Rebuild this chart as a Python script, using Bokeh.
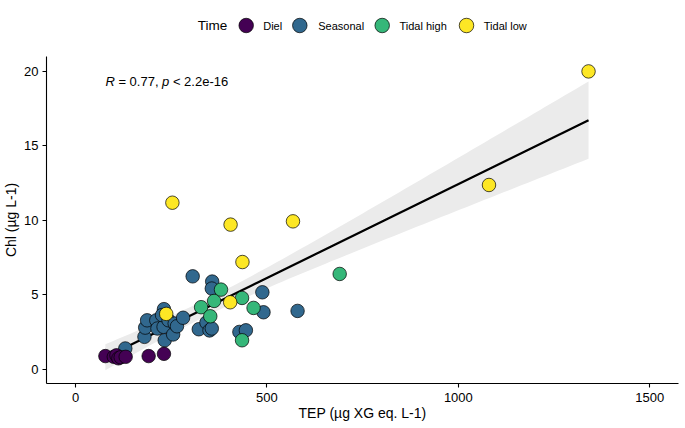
import numpy as np
from bokeh.plotting import figure
from bokeh.layouts import column
from bokeh.models import ColumnDataSource, Label, Range1d, FixedTicker
from bokeh.core.properties import value
from bokeh.embed import file_html
from bokeh.resources import INLINE

# ---------------- data ----------------
groups = ["Diel", "Seasonal", "Tidal high", "Tidal low"]
colors = ["#440154", "#31688E", "#35B779", "#FDE725"]

diel_tep = [78, 100, 107, 112, 118, 131, 191, 231]
diel_chl = [0.90, 0.85, 0.95, 0.75, 0.82, 0.85, 0.90, 1.05]

seasonal_tep = [130, 180, 182, 187, 211, 214, 230, 231, 226, 233, 243, 255, 259, 265,
                281, 306, 322, 342, 350, 356, 357, 356, 428, 445, 488, 491, 580]
seasonal_chl = [1.41, 2.19, 2.81, 3.30, 3.30, 2.75, 2.86, 4.05, 3.65, 1.96, 3.30, 2.35, 3.08, 2.90,
                3.47, 6.25, 2.70, 3.15, 2.62, 2.75, 5.90, 5.43, 2.52, 2.63, 5.18, 3.84, 3.93]

tidal_high_tep = [328, 352, 362, 380, 435, 465, 435, 690]
tidal_high_chl = [4.18, 3.57, 4.60, 5.36, 4.80, 4.13, 1.96, 6.41]

tidal_low_tep = [237, 253, 404, 405, 436, 568, 1080, 1340]
tidal_low_chl = [3.73, 11.19, 4.51, 9.72, 7.21, 9.94, 12.38, 20.0]

x_ticks = [0, 500, 1000, 1500]
y_ticks = [0, 5, 10, 15, 20]
legend_title = "Time"
r_text = "0.77"
p_text = "2.2e-16"

# ---------------- regression (lm with 95% CI) ----------------
all_x = np.array(diel_tep + seasonal_tep + tidal_high_tep + tidal_low_tep, dtype=float)
all_y = np.array(diel_chl + seasonal_chl + tidal_high_chl + tidal_low_chl, dtype=float)
n = len(all_x)
slope, intercept = np.polyfit(all_x, all_y, 1)
resid = all_y - (slope * all_x + intercept)
s = np.sqrt(np.sum(resid ** 2) / (n - 2))
xbar = all_x.mean()
sxx = np.sum((all_x - xbar) ** 2)
t_crit = 2.01
xs = np.linspace(all_x.min(), all_x.max(), 80)
fit = slope * xs + intercept
se = s * np.sqrt(1.0 / n + (xs - xbar) ** 2 / sxx)
lo = fit - t_crit * se
hi = fit + t_crit * se

FONT = "Liberation Sans"
W = 685
LEG_H = 56
FRAME_L = 46
FRAME_R = 678

# ---------------- legend strip (pixel coordinates, frames aligned with main plot) ----------------
leg = figure(width=W, height=LEG_H, output_backend="svg", toolbar_location=None,
             x_range=Range1d(FRAME_L, FRAME_R), y_range=Range1d(0, LEG_H),
             min_border_top=0, min_border_bottom=0, min_border_left=FRAME_L,
             min_border_right=W - FRAME_R, x_axis_type=None, y_axis_type=None)
leg.outline_line_color = None
leg.grid.visible = False
leg_y = 31
key_x = [245.7, 299.3, 381.7, 466.0]
lab_x = [262.7, 317.7, 399.0, 483.3]
leg.scatter(x=key_x, y=[leg_y] * 4, size=14.5, marker="circle", fill_color=colors,
            line_color="black", line_width=0.7)
leg.text(x=lab_x, y=[leg_y] * 4, text=groups, text_font=value(FONT), text_font_size="11px",
         text_baseline="middle", text_align="left", text_color="black")
leg.text(x=[197.3], y=[leg_y], text=[legend_title], text_font=value(FONT),
         text_font_size="13.5px", text_baseline="middle", text_align="left", text_color="black")

# ---------------- main figure ----------------
p = figure(width=W, height=428 - LEG_H, output_backend="svg", toolbar_location=None,
           x_range=Range1d(-75.8, 1575), y_range=Range1d(-0.94, 21.0),
           min_border_top=0, min_border_left=FRAME_L, min_border_right=W - FRAME_R,
           min_border_bottom=45)
p.background_fill_color = "white"
p.border_fill_color = "white"
p.outline_line_color = None
p.grid.visible = False

p.varea(x=xs, y1=lo, y2=hi, fill_color="#EBEBEB", fill_alpha=1.0)
p.line(x=xs, y=fit, line_color="black", line_width=2.2)

series = [
    (seasonal_tep, seasonal_chl, colors[1]),
    (diel_tep, diel_chl, colors[0]),
    (tidal_high_tep, tidal_high_chl, colors[2]),
    (tidal_low_tep, tidal_low_chl, colors[3]),
]
for xv, yv, col in series:
    src = ColumnDataSource(dict(x=xv, y=yv))
    p.scatter("x", "y", source=src, size=13.5, fill_color=col, line_color="black",
              line_width=0.7, marker="circle")

for ax in (p.xaxis, p.yaxis):
    ax.axis_line_color = "black"
    ax.axis_line_width = 1.1
    ax.major_tick_line_color = "black"
    ax.major_tick_line_width = 1.1
    ax.major_tick_out = 4
    ax.major_tick_in = 0
    ax.minor_tick_out = 0
    ax.minor_tick_in = 0
    ax.major_label_text_font = FONT
    ax.major_label_text_font_size = "13px"
    ax.major_label_text_color = "black"
    ax.axis_label_text_font = FONT
    ax.axis_label_text_font_size = "14px"
    ax.axis_label_text_font_style = "normal"
    ax.axis_label_text_color = "black"
p.xaxis.ticker = FixedTicker(ticks=x_ticks)
p.yaxis.ticker = FixedTicker(ticks=y_ticks)
p.xaxis.axis_label = "TEP (µg XG eq. L-1)"
p.yaxis.axis_label = "Chl (µg L-1)"
p.xaxis.major_label_standoff = 5
p.xaxis.axis_label_standoff = 0
p.yaxis.major_label_standoff = 4
p.yaxis.axis_label_standoff = 2

# correlation annotation
lx = float(all_x.min())
ly = 19.3
parts = [("R", "italic", 0), ("= " + r_text + ",", "normal", 13.0), ("p", "italic", 56.7),
         ("< " + p_text, "normal", 67.5)]
for txt, style, off in parts:
    p.add_layout(Label(x=lx, y=ly, x_offset=off, text=txt, text_font=FONT, text_font_size="13px",
                       text_font_style=style, text_baseline="middle", text_align="left",
                       text_color="black"))

layout = column(leg, p, spacing=0)
open("out.html", "w").write(file_html(layout, INLINE))
